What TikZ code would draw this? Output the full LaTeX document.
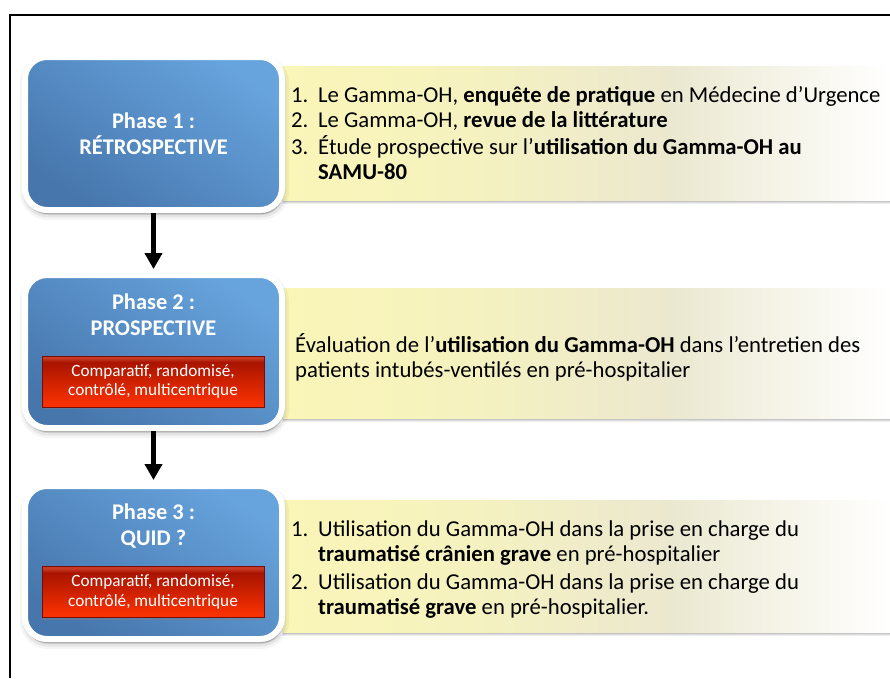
\documentclass[tikz,border=0pt]{standalone}
\usepackage{fontspec}
\setmainfont{Carlito}
\usetikzlibrary{arrows.meta,shadows}
\definecolor{blueL}{HTML}{67A3DD}
\definecolor{blueD}{HTML}{4676AC}
\definecolor{redT}{HTML}{A81400}
\definecolor{redH}{HTML}{C83A22}
\definecolor{redB}{HTML}{FF3300}
\definecolor{panY}{HTML}{FAF6B8}
\definecolor{panM}{HTML}{EBE8D0}
\pgfdeclarehorizontalshading{panelshade}{100bp}{color(0bp)=(panY); color(25bp)=(panY); color(40bp)=(panY!70!panM); color(57bp)=(panM); color(75bp)=(white); color(100bp)=(white)}
\pgfdeclareverticalshading{redshade}{100bp}{color(0bp)=(redB); color(25bp)=(redB); color(69bp)=(redT); color(73bp)=(redH); color(75bp)=(redH); color(100bp)=(redH)}
\tikzset{
  softshadow/.style={
    general shadow={fill=black, draw=black, line width=12pt, opacity=0.04, shadow xshift=1pt, shadow yshift=-4pt},
    general shadow={fill=black, draw=black, line width=7pt, opacity=0.06, shadow xshift=1pt, shadow yshift=-4pt},
    general shadow={fill=black, draw=black, line width=2pt, opacity=0.1, shadow xshift=1pt, shadow yshift=-4pt}},
  phasebox/.style={rounded corners=22pt, top color=blueL, bottom color=blueD, shading angle=-35,
    draw=white, line width=6pt, minimum width=257pt, minimum height=153pt, inner sep=0pt,
    text=white, align=center, font=\bfseries\fontsize{22.4}{26}\selectfont, softshadow},
  phaselabel/.style={text=white, align=center, font=\bfseries\fontsize{22.4}{26}\selectfont, inner sep=0pt},
  redbox/.style={shading=redshade, draw=redT!70!black, line width=0.6pt,
    minimum width=222pt, minimum height=51pt, inner sep=0pt, text=white, align=center,
    font=\fontsize{17.2}{19.5}\selectfont,
    drop shadow={opacity=0.4, shadow xshift=1pt, shadow yshift=-2pt}},
  panel/.style={shading=panelshade, draw=none, minimum width=607pt, inner sep=0pt,
    general shadow={fill=black, draw=black, line width=3pt, opacity=0.07, shadow xshift=0pt, shadow yshift=-2.5pt},
    general shadow={fill=black, opacity=0.1, shadow xshift=0pt, shadow yshift=-2pt}},
  paneltext/.style={anchor=west, inner sep=0pt, align=left, font=\fontsize{22.7}{25}\selectfont},
  arr/.style={line width=5pt, -{Triangle[length=16pt,width=17pt]}, shorten >=3pt},
  frame/.style={line width=2pt, black}
}
\newcommand{\itemsT}[1]{\begin{tabular}{@{}p{27pt}@{}l@{}}#1\end{tabular}}
\begin{document}
\begin{tikzpicture}[x=1pt,y=-1pt]
\useasboundingbox (0,0) rectangle (890,678);
\fill[white] (0,0) rectangle (890,678);
\draw[frame] (9.5,678) -- (9.5,14.5) -- (890,14.5);

% panels
\node[panel, minimum height=134pt] (p1) at (586.5,133) {};
\node[panel, minimum height=130pt] (p2) at (586.5,353) {};
\node[panel, minimum height=132pt] (p3) at (586.5,566) {};

\node[paneltext] (t1) at (291,136) {\itemsT{%
1. & Le Gamma-OH, \textbf{enquête de pratique} en Médecine d’Urgence\\
2. & Le Gamma-OH, \textbf{revue de la littérature}\\
3. & Étude prospective sur l’\textbf{utilisation du Gamma-OH au}\\
   & \textbf{SAMU-80}}};
\node[paneltext] (t2) at (295,357) {Évaluation de l’\textbf{utilisation du Gamma-OH} dans l’entretien des\\
patients intubés-ventilés en pré-hospitalier};
\node[paneltext] (t3) at (291,570) {\itemsT{%
1. & Utilisation du Gamma-OH dans la prise en charge du\\
   & \textbf{traumatisé crânien grave} en pré-hospitalier\\[3pt]
2. & Utilisation du Gamma-OH dans la prise en charge du\\
   & \textbf{traumatisé grave} en pré-hospitalier.}};

% phase boxes
\node[phasebox] (b1) at (153.5,133.5) {Phase 1 :\\RÉTROSPECTIVE};
\node[phasebox] (b2) at (153.5,351.5) {};
\node[phasebox] (b3) at (153.5,562.5) {};

\node[phaselabel] (l2) at (153.5,315) {Phase 2 :\\PROSPECTIVE};
\node[phaselabel] (l3) at (153.5,526.5) {Phase 3 :\\QUID ?};

\node[redbox] (r2) at (153,381.5) {Comparatif, randomisé,\\contrôlé, multicentrique};
\node[redbox] (r3) at (153,592) {Comparatif, randomisé,\\contrôlé, multicentrique};

% arrows
\draw[arr] (b1.south) -- (b2.north);
\draw[arr] (b2.south) -- (b3.north);
\end{tikzpicture}
\end{document}
